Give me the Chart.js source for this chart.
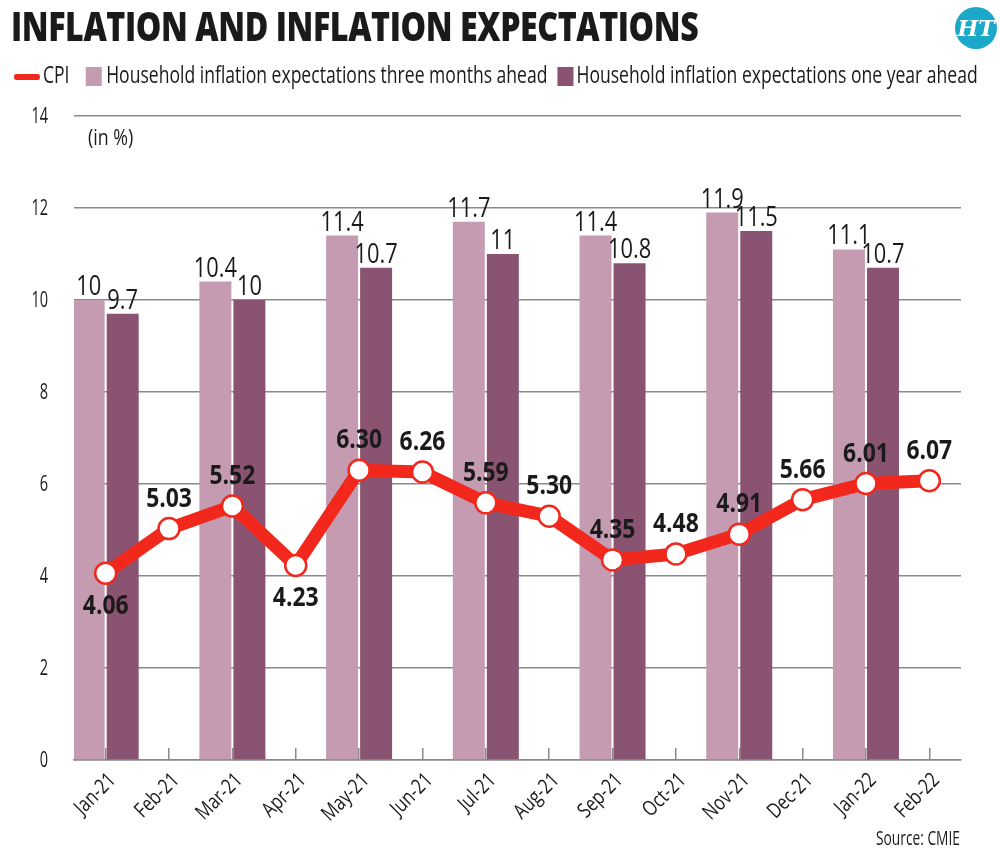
<!DOCTYPE html>
<html>
<head>
<meta charset="utf-8">
<script src="https://cdn.jsdelivr.net/npm/chart.js@4/dist/chart.umd.min.js"></script>
<style>
  html, body { margin: 0; padding: 0; background: #fff; }
  body { width: 1000px; height: 863px; position: relative; overflow: hidden;
         font-family: 'Open Sans', sans-serif; color: #1a1a1a; }
  #wrap { position: absolute; left: 0; top: 0; width: 1000px; height: 863px; }
  .fit { position: absolute; white-space: nowrap; line-height: 1; transform-origin: 0 0; z-index: 2; }
  #title { left: 11px; top: 6px; font-size: 40px; font-weight: 800; letter-spacing: -0.5px; }
  #logo { position: absolute; left: 955px; top: 7px; width: 42px; height: 42px; border-radius: 50%;
          background: #1ca8c8; color: #fff; font: bold italic 22px 'DejaVu Serif', serif;
          text-align: center; line-height: 42px; z-index: 2; }
  #legend { left: 14px; top: 58px; height: 26px; font-size: 23px; line-height: 26px; }
  #legend span.item { display: inline-block; vertical-align: middle; }
  #legend i { display: inline-block; vertical-align: middle; }
  #unit { left: 88px; top: 127px; font-size: 21px; }
  #source { left: 876px; top: 828px; font-size: 20px; }
</style>
</head>
<body>
<div id="title" class="fit">INFLATION AND INFLATION EXPECTATIONS</div>
<div id="logo">HT</div>
<div id="legend" class="fit"></div>
<div id="unit" class="fit">(in %)</div>
<div id="source" class="fit">Source: CMIE</div>
<div id="wrap"><canvas id="chart"></canvas></div>

<script>
const FONT = "'Open Sans', sans-serif";

// data
const months = ["Jan-21", "Feb-21", "Mar-21", "Apr-21", "May-21", "Jun-21", "Jul-21",
                "Aug-21", "Sep-21", "Oct-21", "Nov-21", "Dec-21", "Jan-22", "Feb-22"];
const cpi = [4.06, 5.03, 5.52, 4.23, 6.30, 6.26, 5.59, 5.30, 4.35, 4.48, 4.91, 5.66, 6.01, 6.07];
const threeMonthsAhead = [10, null, 10.4, null, 11.4, null, 11.7, null, 11.4, null, 11.9, null, 11.1, null];
const oneYearAhead = [9.7, null, 10, null, 10.7, null, 11, null, 10.8, null, 11.5, null, 10.7, null];
const yTicks = [0, 2, 4, 6, 8, 10, 12, 14];
const seriesNames = ["CPI",
  "Household inflation expectations three months ahead",
  "Household inflation expectations one year ahead"];

const RED = "#f2281c";
const LIGHT = "#c49bb1";
const DARK = "#8a5371";
const GRID = "#8a8a8a";
const INK = "#1a1a1a";

// which CPI labels sit under their point
const cpiLabelsBelow = [0, 3];

// squeeze a html block to a given width (no condensed face installed)
function fitWidth(id, w) {
  const el = document.getElementById(id);
  el.style.transform = "scaleX(" + (w / el.scrollWidth) + ")";
}

const legend = document.getElementById("legend");
legend.innerHTML =
  `<span class="item"><i style="width:34px;height:6px;border-radius:3px;background:${RED};margin-right:4px"></i>${seriesNames[0]}</span>` +
  `<span class="item" style="margin-left:21px"><i style="width:21px;height:19px;background:${LIGHT};margin-right:6px"></i>${seriesNames[1]}</span>` +
  `<span class="item" style="margin-left:13px"><i style="width:21px;height:19px;background:${DARK};margin-right:4px"></i>${seriesNames[2]}</span>`;

fitWidth("title", 687);
fitWidth("legend", 964);
fitWidth("unit", 45);
fitWidth("source", 84);

// condensed text on the canvas
function squeezeText(ctx, text, x, y, sx, angle) {
  ctx.save();
  ctx.translate(x, y);
  if (angle) ctx.rotate(angle);
  ctx.scale(sx, 1);
  ctx.fillText(text, 0, 0);
  ctx.restore();
}

const axisLabels = {
  id: "axisLabels",
  afterDraw(chart) {
    const ctx = chart.ctx;
    const { x, y } = chart.scales;
    const area = chart.chartArea;
    ctx.save();
    ctx.fillStyle = INK;
    ctx.font = "22px " + FONT;
    ctx.textAlign = "right";
    ctx.textBaseline = "middle";
    y.ticks.forEach(t => {
      squeezeText(ctx, String(t.value), area.left - 26, y.getPixelForValue(t.value) + 1, 0.66);
    });
    ctx.font = "21px " + FONT;
    x.ticks.forEach((t, i) => {
      squeezeText(ctx, months[i], x.getPixelForTick(i) + 7, area.bottom + 17, 0.8, -Math.PI / 4);
    });
    ctx.restore();
  }
};

const valueLabels = {
  id: "valueLabels",
  afterDatasetsDraw(chart) {
    const ctx = chart.ctx;
    ctx.save();
    ctx.fillStyle = INK;
    ctx.textAlign = "center";
    chart.data.datasets.forEach((ds, i) => {
      const meta = chart.getDatasetMeta(i);
      meta.data.forEach((el, j) => {
        const v = ds.data[j];
        if (v == null) return;
        if (ds.type === "line") {
          ctx.font = "bold 26px " + FONT;
          const below = cpiLabelsBelow.includes(j);
          ctx.textBaseline = below ? "top" : "alphabetic";
          squeezeText(ctx, v.toFixed(2), el.x, below ? el.y + 20 : el.y - 22, 0.88);
        } else {
          ctx.font = "28px " + FONT;
          ctx.textBaseline = "alphabetic";
          squeezeText(ctx, String(v), el.x, el.y - 5, 0.78);
        }
      });
    });
    ctx.restore();
  }
};

Chart.defaults.font.family = FONT;
Chart.defaults.color = INK;

new Chart(document.getElementById("chart"), {
  type: "bar",
  data: {
    labels: months,
    datasets: [
      {
        type: "bar",
        label: seriesNames[1],
        data: threeMonthsAhead,
        backgroundColor: LIGHT,
        categoryPercentage: 1.074,
        barPercentage: 0.94,
        order: 1
      },
      {
        type: "bar",
        label: seriesNames[2],
        data: oneYearAhead,
        backgroundColor: DARK,
        categoryPercentage: 1.074,
        barPercentage: 0.94,
        order: 2
      },
      {
        type: "line",
        label: seriesNames[0],
        data: cpi,
        borderColor: RED,
        borderWidth: 13,
        borderJoinStyle: "round",
        tension: 0,
        pointRadius: 10.5,
        pointBorderWidth: 2.5,
        pointBackgroundColor: "#fff",
        pointBorderColor: RED,
        order: 0
      }
    ]
  },
  options: {
    responsive: true,
    maintainAspectRatio: false,
    animation: false,
    layout: { padding: { top: 116, left: 0, right: 39, bottom: 0 } },
    plugins: {
      legend: { display: false },
      tooltip: { enabled: false }
    },
    scales: {
      x: {
        offset: true,
        grid: { display: true, offset: false, drawOnChartArea: false, tickLength: -12,
                color: GRID, lineWidth: 1.5 },
        border: { display: true, color: GRID, width: 1.5 },
        ticks: { display: false, autoSkip: false },
        afterFit: scale => { scale.height = 103; }
      },
      y: {
        min: yTicks[0],
        max: yTicks[yTicks.length - 1],
        afterBuildTicks: scale => { scale.ticks = yTicks.map(v => ({ value: v })); },
        grid: { color: GRID, lineWidth: 1.5, drawTicks: false },
        border: { display: false },
        ticks: { display: false },
        afterFit: scale => { scale.width = 74; }
      }
    }
  },
  plugins: [valueLabels, axisLabels]
});
</script>
</body>
</html>
